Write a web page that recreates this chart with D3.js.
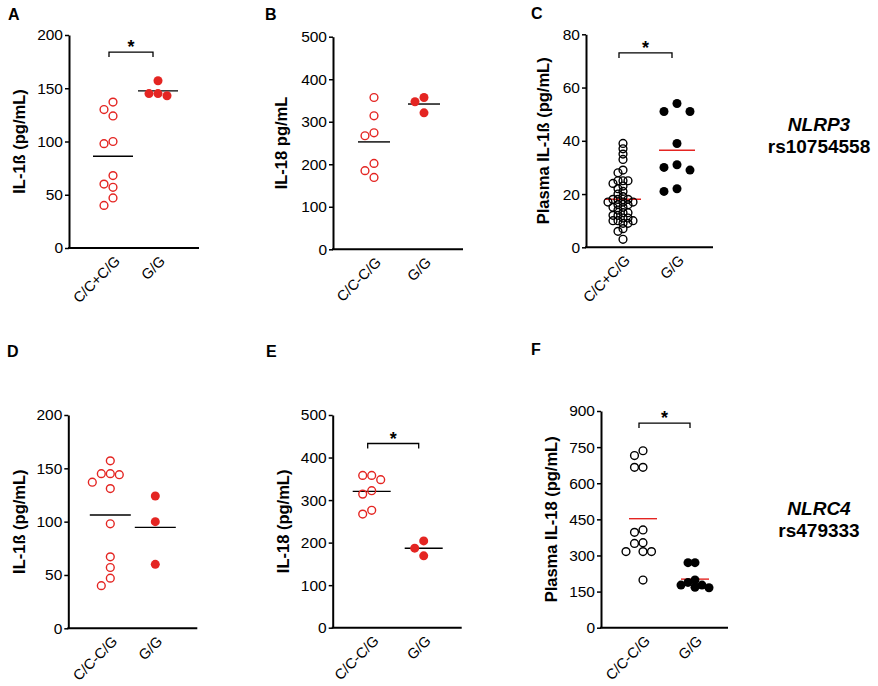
<!DOCTYPE html>
<html>
<head>
<meta charset="utf-8">
<script src="https://cdn.jsdelivr.net/npm/d3@7"></script>
<style>
  body { margin: 0; background: #fff; }
  svg { font-family: "Liberation Sans", Arial, Helvetica, sans-serif; }
</style>
</head>
<body>
<svg id="fig" width="878" height="686"></svg>
<script>
// ---- data ----
const catsPlus = ["C/C+C/G", "G/G"];
const catsDash = ["C/C-C/G", "G/G"];

// A: IL-1ß (pg/mL), NLRP3
const aCtrl = [137, 130, 124, 100, 98, 68, 60, 57, 47, 40];
const aGG = [157, 145, 145, 143];
// B: IL-18 pg/mL, NLRP3
const bCtrl = [357, 314, 274, 267, 202, 185, 169];
const bGG = [357, 347, 321];
// C: plasma IL-1ß, NLRP3
const cCtrl = [39, 37, 35, 33, 29, 28, 25, 25, 25, 24, 23, 22, 21, 20, 19, 18, 18, 18, 17, 17,
               17, 16, 16, 15, 15, 14, 13, 13, 12, 12, 11, 11, 10, 10, 10, 9, 9, 7, 6, 3];
const cGG = [54, 51, 51, 39, 31, 30, 29, 22, 21];
// D: IL-1ß, NLRC4
const dCtrl = [157, 145, 145, 144, 137, 131, 98, 67, 57, 47, 40];
const dGG = [124, 100, 60];
// E: IL-18, NLRC4
const eCtrl = [358, 358, 348, 322, 314, 276, 267];
const eGG = [204, 187, 169];
// F: plasma IL-18, NLRC4
const fCtrl = [735, 715, 666, 666, 406, 396, 353, 350, 316, 316, 316, 198];
const fGG = [270, 270, 198, 188, 177, 177, 168, 166];

const ticks200 = [0, 50, 100, 150, 200];
const ticks500 = [0, 100, 200, 300, 400, 500];
const ticks80 = [0, 20, 40, 60, 80];
const ticks900 = [0, 150, 300, 450, 600, 750, 900];

const RED = "#e42522";

// ---- panel layout ----
const panels = [
  { letter: "A", lx: 8, ly: 20, x0: 69, top: 35, bottom: 248, w: 130, c: [44, 89],
    ticks: ticks200, cats: catsPlus, ctrl: aCtrl, gg: aGG, title: "IL-1ß (pg/mL)", tOff: 50,
    color: RED, meanColor: "#000", meanW: 40, sig: 184, minD: 9, minDG: 9 },
  { letter: "B", lx: 265, ly: 20, x0: 333, top: 36.7, bottom: 249.3, w: 130, c: [41, 91],
    ticks: ticks500, cats: catsDash, ctrl: bCtrl, gg: bGG, title: "IL-18 pg/mL", tOff: 52,
    color: RED, meanColor: "#000", meanW: 32, sig: null, minD: 9, minDG: 9 },
  { letter: "C", lx: 531, ly: 19, x0: 586, top: 34.3, bottom: 247.3, w: 127, c: [37, 91],
    ticks: ticks80, cats: catsPlus, ctrl: cCtrl, gg: cGG, title: "Plasma IL-1ß (pg/mL)", tOff: 43,
    color: "#000", meanColor: RED, meanW: 36, sig: 73, minD: 5, minDG: 13 },
  { letter: "D", lx: 7, ly: 357, x0: 68.3, top: 415, bottom: 628.3, w: 129, c: [42, 87],
    ticks: ticks200, cats: catsDash, ctrl: dCtrl, gg: dGG, title: "IL-1ß (pg/mL)", tOff: 49,
    color: RED, meanColor: "#000", meanW: 41, sig: null, minD: 9, minDG: 9 },
  { letter: "E", lx: 266, ly: 357, x0: 332.7, top: 415, bottom: 627.7, w: 129, c: [39, 91],
    ticks: ticks500, cats: catsDash, ctrl: eCtrl, gg: eGG, title: "IL-18 (pg/mL)", tOff: 49,
    color: RED, meanColor: "#000", meanW: 38, sig: 433, minD: 9, minDG: 9 },
  { letter: "F", lx: 531, ly: 355, x0: 601, top: 411, bottom: 627.7, w: 127, c: [42, 94],
    ticks: ticks900, cats: catsDash, ctrl: fCtrl, gg: fGG, title: "Plasma IL-18 (pg/mL)", tOff: 50,
    color: "#000", meanColor: RED, meanW: 28, sig: 850, minD: 8.5, minDG: 7 }
];

const svg = d3.select("#fig");

// simple beeswarm: nearest free horizontal slot for each point
function swarm(vals, y, minD) {
  const pts = vals.map(v => ({ v, py: y(v) })).sort((a, b) => a.py - b.py);
  const placed = [];
  pts.forEach(p => {
    for (let k = 0; k < 60; k++) {
      const dx = k === 0 ? 0 : (k % 2 ? -1 : 1) * Math.ceil(k / 2) * minD;
      if (placed.every(q => (q.dx - dx) ** 2 + (q.py - p.py) ** 2 >= minD * minD * 0.98)) {
        p.dx = dx;
        break;
      }
    }
    placed.push(p);
  });
  return placed;
}

panels.forEach(p => {
  const g = svg.append("g");
  const y = d3.scaleLinear()
    .domain([0, d3.max(p.ticks)])
    .range([p.bottom, p.top]);
  const x = d3.scalePoint()
    .domain(p.cats)
    .range([p.x0 + p.c[0], p.x0 + p.c[1]]);

  // panel letter
  g.append("text")
    .attr("x", p.lx).attr("y", p.ly)
    .attr("font-size", 16).attr("font-weight", "bold")
    .text(p.letter);

  // y axis
  const ax = g.append("g")
    .attr("transform", `translate(${p.x0},0)`)
    .call(d3.axisLeft(y).tickValues(p.ticks).tickSize(4).tickPadding(2).tickSizeOuter(0));
  ax.select(".domain").attr("stroke-width", 2);
  ax.selectAll(".tick line").attr("stroke-width", 1.5);
  ax.selectAll(".tick text")
    .attr("font-size", 15.5)
    .attr("font-family", "Liberation Sans, Arial, sans-serif")
    .attr("fill", "#000");

  // x axis line
  g.append("line")
    .attr("x1", p.x0 - 1).attr("x2", p.x0 + p.w)
    .attr("y1", p.bottom).attr("y2", p.bottom)
    .attr("stroke", "#000").attr("stroke-width", 2);

  // category labels, rotated
  g.selectAll(".cat")
    .data(p.cats)
    .join("text")
    .attr("class", "cat")
    .attr("transform", d => `translate(${x(d) + 8},${p.bottom + 14}) rotate(-45)`)
    .attr("text-anchor", "end")
    .attr("font-size", 14.5)
    .text(d => d);

  // y title
  g.append("text")
    .attr("transform", `translate(${p.x0 - p.tOff},${(p.top + p.bottom) / 2}) rotate(-90)`)
    .attr("text-anchor", "middle")
    .attr("dy", "0.35em")
    .attr("font-size", 16.5)
    .attr("font-weight", "bold")
    .text(p.title);

  // mean lines
  [p.ctrl, p.gg].forEach((vals, i) => {
    const cx = x(p.cats[i]);
    g.append("line")
      .attr("x1", cx - p.meanW / 2).attr("x2", cx + p.meanW / 2)
      .attr("y1", y(d3.mean(vals))).attr("y2", y(d3.mean(vals)))
      .attr("stroke", p.meanColor).attr("stroke-width", 1.4);
  });

  // points: open for first group, filled for G/G
  g.selectAll(".ctrl")
    .data(swarm(p.ctrl, y, p.minD))
    .join("circle")
    .attr("class", "ctrl")
    .attr("cx", d => x(p.cats[0]) + d.dx)
    .attr("cy", d => y(d.v))
    .attr("r", 3.9)
    .attr("fill", "none")
    .attr("stroke", p.color)
    .attr("stroke-width", 1.4);

  g.selectAll(".gg")
    .data(swarm(p.gg, y, p.minDG))
    .join("circle")
    .attr("class", "gg")
    .attr("cx", d => x(p.cats[1]) + d.dx)
    .attr("cy", d => y(d.v))
    .attr("r", 4.5)
    .attr("fill", p.color);

  // significance bracket
  if (p.sig != null) {
    const by = y(p.sig);
    const x1 = x(p.cats[0]) - 4, x2 = x(p.cats[1]) - 5;
    g.append("path")
      .attr("d", `M${x1},${by + 5}V${by}H${x2}V${by + 5}`)
      .attr("fill", "none").attr("stroke", "#000").attr("stroke-width", 1.3);
    g.append("text")
      .attr("x", (x1 + x2) / 2).attr("y", by + 1)
      .attr("text-anchor", "middle")
      .attr("font-size", 18).attr("font-weight", "bold")
      .text("*");
  }
});

// gene / SNP labels
const genes = [
  { gene: "NLRP3", snp: "rs10754558", y: 131 },
  { gene: "NLRC4", snp: "rs479333", y: 515 }
];
genes.forEach(d => {
  svg.append("text")
    .attr("x", 819).attr("y", d.y)
    .attr("text-anchor", "middle")
    .attr("font-size", 19).attr("font-weight", "bold").attr("font-style", "italic")
    .text(d.gene);
  svg.append("text")
    .attr("x", 819).attr("y", d.y + 21.5)
    .attr("text-anchor", "middle")
    .attr("font-size", 19).attr("font-weight", "bold")
    .text(d.snp);
});
</script>
</body>
</html>
